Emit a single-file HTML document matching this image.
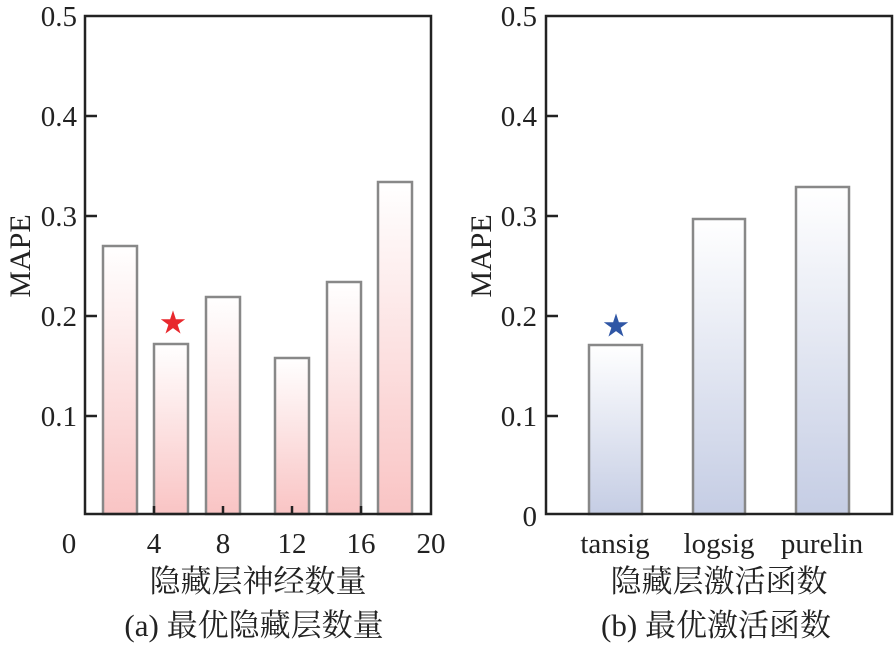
<!DOCTYPE html>
<html><head><meta charset="utf-8"><style>body{margin:0;background:#fff}text{font-family:"Liberation Serif","Noto Serif CJK SC",serif}</style></head><body>
<svg width="894" height="654" xmlns="http://www.w3.org/2000/svg">
<defs>
<linearGradient id="r" x1="0" y1="0" x2="0" y2="1"><stop offset="0" stop-color="#fff"/><stop offset="1" stop-color="#f9c4c4"/></linearGradient>
<linearGradient id="b" x1="0" y1="0" x2="0" y2="1"><stop offset="0" stop-color="#fff"/><stop offset="1" stop-color="#c5cde4"/></linearGradient>
</defs>
<g stroke="#888" stroke-width="2.5">
<rect x="103" y="246" width="34" height="268" fill="url(#r)"/>
<rect x="154" y="344" width="34" height="170" fill="url(#r)"/>
<rect x="206" y="297" width="34" height="217" fill="url(#r)"/>
<rect x="275" y="358" width="34" height="156" fill="url(#r)"/>
<rect x="327" y="282" width="34" height="232" fill="url(#r)"/>
<rect x="378" y="182" width="34" height="332" fill="url(#r)"/>
<rect x="589" y="345" width="53" height="169" fill="url(#b)"/>
<rect x="693" y="219" width="52" height="295" fill="url(#b)"/>
<rect x="796" y="187" width="53" height="327" fill="url(#b)"/>
</g>
<g fill="none" stroke="#222" stroke-width="2.5">
<rect x="85" y="16" width="346" height="498"/>
<rect x="546" y="16" width="346" height="498"/>
<path d="M85 116h12M85 216h12M85 316h12M85 416h12M154 514v-8M223 514v-8M292 514v-8M361 514v-8
M546 116h12M546 216h12M546 316h12M546 416h12"/>
</g>
<text x="173" y="332" font-size="26" fill="#e8282d" text-anchor="middle">★</text>
<text x="616" y="335" font-size="26" fill="#2f56a5" text-anchor="middle">★</text>
<g font-size="29" fill="#222" text-anchor="end">
<text x="77" y="26">0.5</text><text x="77" y="126">0.4</text><text x="77" y="226">0.3</text><text x="77" y="326">0.2</text><text x="77" y="426">0.1</text>
<text x="537" y="26">0.5</text><text x="537" y="126">0.4</text><text x="537" y="226">0.3</text><text x="537" y="326">0.2</text><text x="537" y="426">0.1</text><text x="537" y="526">0</text>
</g>
<g font-size="29" fill="#222" text-anchor="middle">
<text x="69" y="553">0</text><text x="154" y="553">4</text><text x="223" y="553">8</text><text x="292" y="553">12</text><text x="361" y="553">16</text><text x="431" y="553">20</text>
<text x="615" y="553">tansig</text><text x="719" y="553">logsig</text><text x="822" y="553">purelin</text>
<text x="258" y="592" font-size="31">隐藏层神经数量</text>
<text x="254" y="636" font-size="31">(a) 最优隐藏层数量</text>
<text x="719" y="592" font-size="31">隐藏层激活函数</text>
<text x="716" y="636" font-size="31">(b) 最优激活函数</text>
<text transform="translate(30 256) rotate(-90)" font-size="30">MAPE</text>
<text transform="translate(491 256) rotate(-90)" font-size="30">MAPE</text>
</g>
</svg>
</body></html>
